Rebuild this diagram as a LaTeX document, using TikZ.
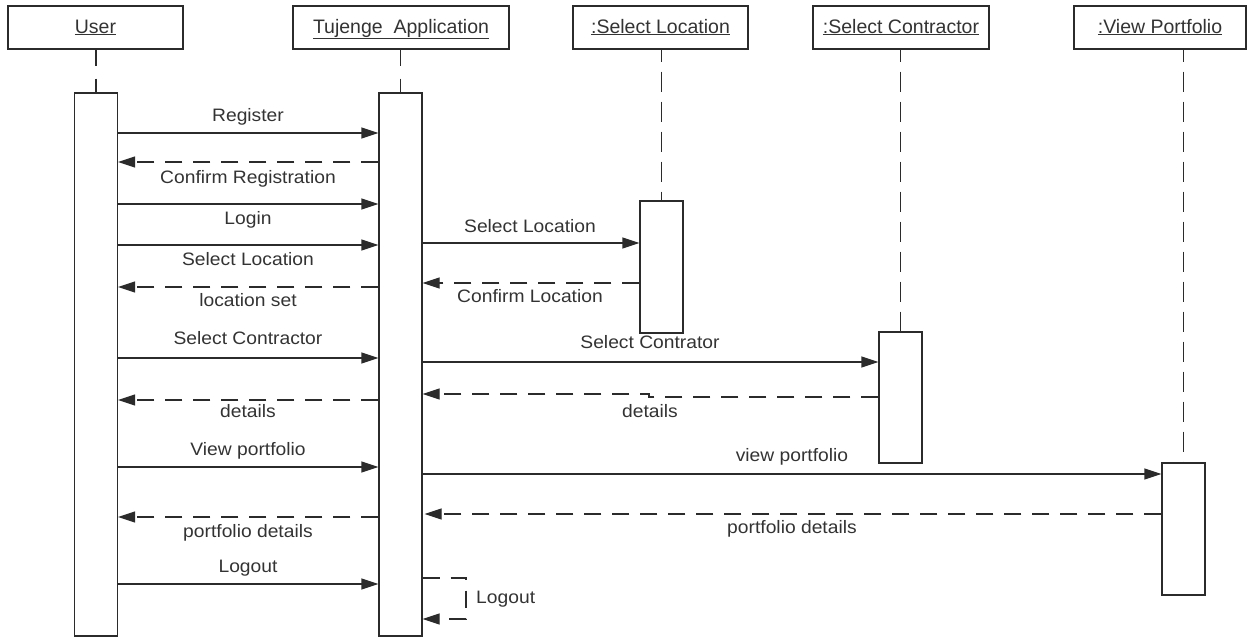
\documentclass[tikz,border=0pt]{standalone}
\usepackage{fontspec}
\setmainfont{Liberation Sans}
\usetikzlibrary{arrows.meta}
\definecolor{ink}{HTML}{2B2B2B}
\definecolor{txt}{HTML}{333333}
\tikzset{
  obj/.style={draw=ink, line width=1.3pt, fill=white, minimum width=175pt, minimum height=43pt,
              inner sep=0pt, text=txt, font=\fontsize{19.5}{22}\selectfont, text height=14pt, text depth=3pt},
  act/.style={draw=ink, line width=1.3pt, fill=white, minimum width=43pt, inner sep=0pt},
  life/.style={draw=ink, line width=1.3pt, dash pattern=on 20pt off 10pt, dash phase=8pt},
  call/.style={draw=ink, line width=1.3pt, -{Triangle[length=17pt,width=11pt]}},
  reply/.style={call, dash pattern=on 17pt off 11pt},
  lbl/.style={text=txt, font=\fontsize{18}{20}\selectfont, inner sep=0pt, anchor=base, xscale=1.07},
}
\begin{document}
\begin{tikzpicture}[x=1pt, y=-1pt]
\useasboundingbox (0,0) rectangle (1248,638);

% object headers
\node[obj] (hUser) at (95.5,27.5) {\underline{User}};
\node[obj, minimum width=216pt] (hApp) at (401,27.5) {\underline{Tujenge\ \ Application}};
\node[obj] (hLoc) at (660.5,27.5) {\underline{:Select Location}};
\node[obj, minimum width=176pt] (hCon) at (901,27.5) {\underline{:Select Contractor}};
\node[obj, minimum width=172pt] (hView) at (1160,27.5) {\underline{:View Portfolio}};

% activation bars
\node[act, minimum height=543pt] (aUser) at (96,364.5) {};
\node[act, minimum height=543pt] (aApp) at (400.5,364.5) {};
\node[act, minimum height=132pt] (aLoc) at (661.5,267) {};
\node[act, minimum height=131pt] (aCon) at (900.5,397.5) {};
\node[act, minimum height=132pt] (aView) at (1183.5,529) {};

% lifelines
\draw[life, dash pattern=on 16pt off 13pt, dash phase=0pt] (hUser.south -| aUser.north) -- (aUser.north);
\draw[life, dash pattern=on 16pt off 13pt, dash phase=0pt] (hApp.south -| aApp.north) -- (aApp.north);
\draw[life] (hLoc.south -| aLoc.north) -- (aLoc.north);
\draw[life] (hCon.south -| aCon.north) -- (aCon.north);
\draw[life] (hView.south -| aView.north) -- (aView.north);

% User <-> Tujenge Application
\draw[call]  (aUser.east |- 0,133) -- (aApp.west |- 0,133);
\node[lbl] (mReg) at (248,121) {Register};
\draw[reply] (aApp.west |- 0,162) -- (aUser.east |- 0,162);
\node[lbl] (mConfReg) at (248,183) {Confirm Registration};
\draw[call]  (aUser.east |- 0,204) -- (aApp.west |- 0,204);
\node[lbl] (mLogin) at (248,224) {Login};
\draw[call]  (aUser.east |- 0,245) -- (aApp.west |- 0,245);
\node[lbl] (mSelLoc) at (248,265) {Select Location};
\draw[reply] (aApp.west |- 0,287) -- (aUser.east |- 0,287);
\node[lbl] (mLocSet) at (248,306) {location set};
\draw[call]  (aUser.east |- 0,358) -- (aApp.west |- 0,358);
\node[lbl] (mSelCon) at (248,344) {Select Contractor};
\draw[reply] (aApp.west |- 0,400) -- (aUser.east |- 0,400);
\node[lbl] (mDet) at (248,417) {details};
\draw[call]  (aUser.east |- 0,467) -- (aApp.west |- 0,467);
\node[lbl] (mView) at (248,455) {View portfolio};
\draw[reply] (aApp.west |- 0,517) -- (aUser.east |- 0,517);
\node[lbl] (mPDet) at (248,537) {portfolio details};
\draw[call]  (aUser.east |- 0,584) -- (aApp.west |- 0,584);
\node[lbl] (mLogout) at (248,572) {Logout};

% Tujenge Application <-> Select Location
\draw[call]  (aApp.east |- 0,243) -- (aLoc.west |- 0,243);
\node[lbl] (mAppLoc) at (530,232) {Select Location};
\draw[reply] (aLoc.west |- 0,283) -- (aApp.east |- 0,283);
\node[lbl] (mConfLoc) at (530,302) {Confirm Location};

% Tujenge Application <-> Select Contractor
\draw[call]  (aApp.east |- 0,362) -- (aCon.west |- 0,362);
\node[lbl] (mAppCon) at (650,348) {Select Contrator};
\coordinate (jogA) at (649,397);
\coordinate (jogB) at (649,394);
\draw[reply] (aCon.west |- jogA) -- (jogA) -- (jogB) -- (aApp.east |- jogB);
\node[lbl] (mConDet) at (650,417) {details};

% Tujenge Application <-> View Portfolio
\draw[call]  (aApp.east |- 0,474) -- (aView.west |- 0,474);
\node[lbl] (mAppView) at (792,461) {view portfolio};
\draw[reply] (aView.west |- 0,514) -- ([xshift=2pt]aApp.east |- 0,514);
\node[lbl] (mViewDet) at (792,533) {portfolio details};

% self call: Logout
\coordinate (selfA) at (466,578);
\coordinate (selfB) at (466,619);
\draw[reply] (aApp.east |- selfA) -- (selfA) -- (selfB) -- (aApp.east |- selfB);
\node[lbl, anchor=base west] (mSelf) at (476,603) {Logout};
\end{tikzpicture}
\end{document}
